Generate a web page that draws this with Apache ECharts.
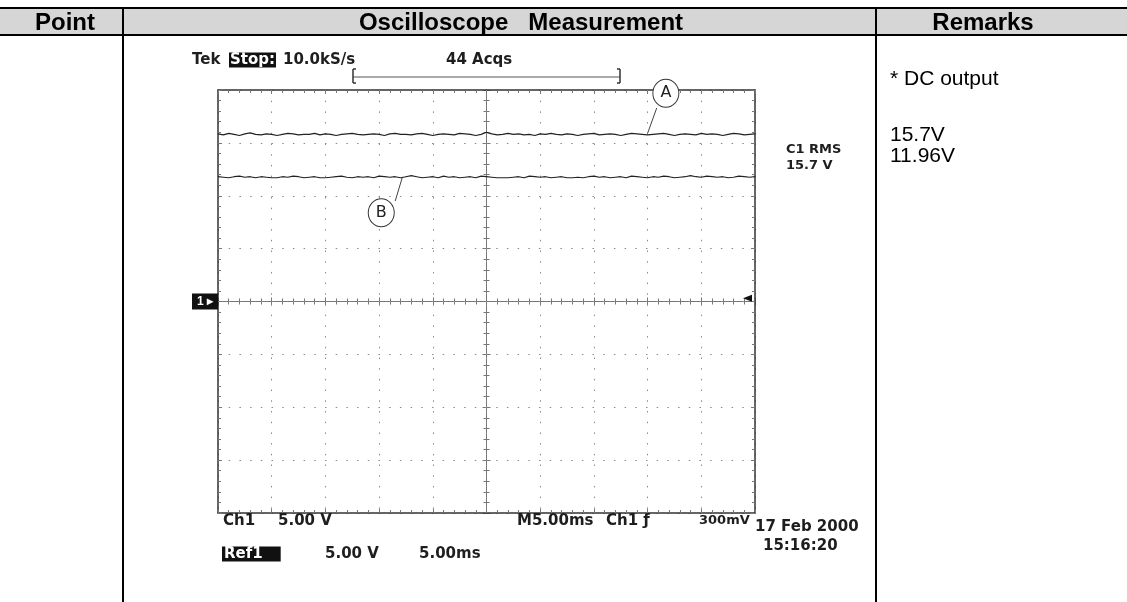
<!DOCTYPE html>
<html><head><meta charset="utf-8">
<script src="https://cdn.jsdelivr.net/npm/echarts@6/dist/echarts.min.js"></script>
<style>html,body{margin:0;padding:0;background:#fff}#c{width:1127px;height:602px}</style>
</head><body><div id="c"></div>
<script>
// ---- data ----
const columnHeaders = ['Point', 'Oscilloscope   Measurement', 'Remarks'];
const remarkLines = ['* DC output', '15.7V', '11.96V'];
const scopeHeader = ['Tek', 'Stop:', '10.0kS/s', '44 Acqs'];
const scopeFooter = ['Ch1', '5.00 V', 'M5.00ms', 'Ch1 \u0192', '300mV', '17 Feb 2000', '15:16:20', 'Ref1', '5.00 V', '5.00ms'];
const rmsReadout = ['C1 RMS', '15.7 V'];
const timeRangeMs = [-25, 25];
const timeDivMs = 5;
const voltRange = [-20, 20];
const voltDiv = 5;
const sampleStartMs = -25;
const sampleStepMs = 0.5;
const triggerLevelV = 0.3;
const traceA = [15.85,15.75,15.9,15.8,15.7,15.85,15.95,15.8,15.75,15.85,15.8,15.7,15.8,15.9,15.85,15.75,15.8,15.8,15.9,15.75,
15.85,15.8,15.7,15.8,15.85,15.9,15.8,15.75,15.8,15.85,15.8,15.7,15.85,15.9,15.8,15.8,15.75,15.85,15.9,15.8,
15.7,15.8,15.85,15.8,15.75,15.9,15.85,15.8,15.7,15.8,16.0,15.85,15.75,15.8,15.9,15.8,15.85,15.75,15.8,15.7,
15.85,15.8,15.9,15.8,15.75,15.85,15.8,15.7,15.8,15.85,15.9,15.75,15.8,15.85,15.8,15.7,15.8,15.9,15.85,15.8,
15.75,15.8,15.85,15.9,15.8,15.7,15.8,15.85,15.8,15.75,15.9,15.8,15.85,15.8,15.7,15.8,15.9,15.85,15.75,15.8,15.85];
const traceB = [11.8,11.75,11.7,11.8,11.85,11.75,11.8,11.7,11.8,11.75,11.7,11.7,11.8,11.75,11.85,11.8,11.7,11.75,11.8,11.7,
11.7,11.75,11.8,11.85,11.75,11.7,11.8,11.75,11.8,11.7,11.85,11.8,11.75,11.8,11.7,11.8,11.9,11.8,11.7,11.75,
11.8,11.7,11.85,11.75,11.8,11.7,11.75,11.8,11.7,11.85,11.8,11.75,11.7,11.7,11.7,11.75,11.8,11.7,11.85,11.8,
11.75,11.8,11.7,11.75,11.8,11.7,11.7,11.75,11.7,11.8,11.85,11.75,11.8,11.7,11.75,11.8,11.7,11.85,11.8,11.75,
11.7,11.8,11.75,11.85,11.8,11.7,11.75,11.8,11.9,11.8,11.75,11.85,11.8,11.75,11.8,11.7,11.75,11.85,11.8,11.75,11.8];
const labelA = { name: 'A', at: [16.7, 19.7], leaderFrom: [15.85, 18.3], leaderTo: [15.0, 15.9] };
const labelB = { name: 'B', at: [-9.8, 8.4], leaderFrom: [-8.5, 9.5], leaderTo: [-7.85, 11.7] };

// ---- build ----
const toPairs = arr => arr.map((v, i) => [sampleStartMs + i * sampleStepMs, v]);
const chart = echarts.init(document.getElementById('c'), null, { renderer: 'canvas' });
const G = { left: 218, top: 90, width: 537, height: 423 };
const ink = '#1e1e1e';
const dotted = { color: '#8a8a8a', width: 1, type: [1.5, 9.2] };
const scopeFont = 'bold 15px "DejaVu Sans"';

function mkAxis(kind, position, onZero, tickInside, split) {
  const range = kind === 'x' ? timeRangeMs : voltRange;
  return {
    type: 'value', min: range[0], max: range[1], interval: kind === 'x' ? timeDivMs : voltDiv, position,
    axisLine: { show: true, onZero, onZeroAxisIndex: 0, lineStyle: { color: onZero ? '#777' : '#333', width: onZero ? 1 : 1.5 } },
    axisTick: { show: true, inside: tickInside, length: 4, lineStyle: { color: '#777' } },
    minorTick: { show: true, splitNumber: 5, length: 3, lineStyle: { color: '#777' } },
    axisLabel: { show: false },
    splitLine: { show: split, lineStyle: dotted },
    z: onZero ? 1 : 2
  };
}

const txt = (x, y, text, opt = {}) => ({
  type: 'text', x, y, z: 50,
  style: Object.assign({ text, font: scopeFont, fill: ink, textAlign: 'left', textVerticalAlign: 'middle' }, opt)
});
const hline = (x1, x2, y, w = 2, c = '#000') => ({ type: 'line', z: 60, shape: { x1, y1: y, x2, y2: y }, style: { stroke: c, lineWidth: w } });
const vline = (x, y1, y2, w = 2, c = '#000') => ({ type: 'line', z: 60, shape: { x1: x, y1, x2: x, y2 }, style: { stroke: c, lineWidth: w } });
const headFont = 'bold 24px "Liberation Sans"';
const remFont = '21px "Liberation Sans"';

const graphics = [
  { type: 'rect', z: 40, shape: { x: 0, y: 8, width: 1127, height: 27 }, style: { fill: '#d6d6d6' } },
  hline(0, 1127, 8), hline(0, 1127, 35),
  vline(123, 8, 602), vline(876, 8, 602),
  txt(65, 23, columnHeaders[0], { font: headFont, fill: '#000', textAlign: 'center' }),
  txt(521, 23, columnHeaders[1], { font: headFont, fill: '#000', textAlign: 'center' }),
  txt(983, 23, columnHeaders[2], { font: headFont, fill: '#000', textAlign: 'center' }),
  txt(890, 79, remarkLines[0], { font: remFont, fill: '#000' }),
  txt(890, 135, remarkLines[1], { font: remFont, fill: '#000' }),
  txt(890, 156, remarkLines[2], { font: remFont, fill: '#000' }),
  // scope header
  txt(192, 60, scopeHeader[0]),
  txt(229, 60, scopeHeader[1], { fill: '#fff', backgroundColor: '#111', padding: [0, 1, 0, 1] }),
  txt(283, 60, scopeHeader[2]),
  txt(446, 60, scopeHeader[3]),
  hline(353, 620, 77, 1, '#555'),
  vline(353, 69, 83, 1.5, '#333'), hline(353, 356, 69, 1.5, '#333'), hline(353, 356, 83, 1.5, '#333'),
  vline(620, 69, 83, 1.5, '#333'), hline(617, 620, 69, 1.5, '#333'), hline(617, 620, 83, 1.5, '#333'),
  // readout
  txt(786, 150, rmsReadout[0], { font: 'bold 13px "DejaVu Sans"' }),
  txt(786, 166, rmsReadout[1], { font: 'bold 13px "DejaVu Sans"' }),
  // footer
  txt(223, 521, scopeFooter[0]), txt(278, 521, scopeFooter[1]),
  txt(517, 521, scopeFooter[2]), txt(606, 521, scopeFooter[3]),
  txt(699, 521, scopeFooter[4], { font: 'bold 13px "DejaVu Sans"' }),
  txt(755, 527, scopeFooter[5]), txt(763, 546, scopeFooter[6]),
  txt(222, 554, scopeFooter[7], { fill: '#fff', backgroundColor: '#111', padding: [0, 18, 0, 2] }),
  txt(325, 554, scopeFooter[8]), txt(419, 554, scopeFooter[9])
];

const leader = l => [{ coord: l.leaderFrom }, { coord: l.leaderTo }];
const bubble = l => ({ coord: l.at, value: l.name });

chart.setOption({
  animation: false,
  backgroundColor: '#fff',
  grid: { left: G.left, top: G.top, width: G.width, height: G.height, show: false },
  xAxis: [mkAxis('x', 'bottom', false, true, true), mkAxis('x', 'top', false, true, false), mkAxis('x', 'bottom', true, true, false), mkAxis('x', 'bottom', true, false, false)],
  yAxis: [mkAxis('y', 'left', false, true, true), mkAxis('y', 'right', false, true, false), mkAxis('y', 'left', true, true, false), mkAxis('y', 'left', true, false, false)],
  graphic: graphics,
  series: [
    {
      name: 'A', type: 'line', data: toPairs(traceA), showSymbol: false, symbol: 'none',
      lineStyle: { color: '#222', width: 1.2 }, z: 5,
      markLine: { silent: true, symbol: 'none', lineStyle: { color: '#444', width: 1, type: 'solid' }, label: { show: false }, data: [leader(labelA), leader(labelB)] },
      markPoint: {
        silent: true, symbol: 'circle', symbolSize: [26, 28],
        itemStyle: { color: '#fff', borderColor: '#333', borderWidth: 1 },
        label: { show: true, formatter: p => p.value, color: '#222', fontSize: 16, fontFamily: 'DejaVu Sans' },
        data: [bubble(labelA), bubble(labelB)]
      }
    },
    {
      name: 'B', type: 'line', data: toPairs(traceB), showSymbol: false, symbol: 'none',
      lineStyle: { color: '#222', width: 1.2 }, z: 5,
      markPoint: {
        silent: true,
        data: [
          { coord: [timeRangeMs[0], 0], symbol: 'rect', symbolSize: [26, 16], symbolOffset: [-13, 0],
            itemStyle: { color: '#111' }, label: { show: true, formatter: '1 \u25B8', color: '#fff', fontSize: 12, fontWeight: 'bold' } },
          { coord: [timeRangeMs[1] - 0.7, triggerLevelV], symbol: 'triangle', symbolSize: [7, 9], symbolRotate: 90,
            itemStyle: { color: '#111' }, label: { show: false } }
        ]
      }
    }
  ]
});
</script></body></html>
